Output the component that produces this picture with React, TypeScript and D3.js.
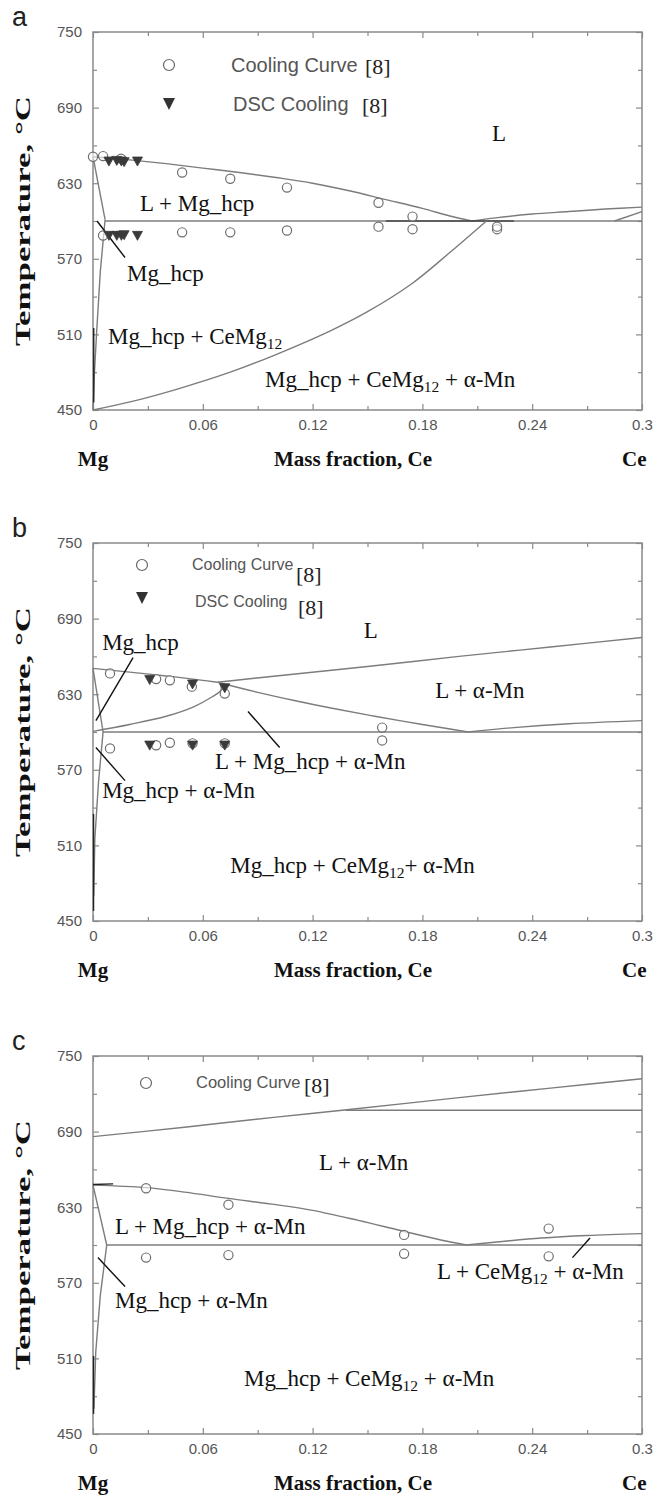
import React, { useEffect, useRef } from "react";
import * as d3 from "d3";

type Pt = [number, number];

const W = 654;
const H = 1502;
const LEFT = 93;
const RIGHT = 642;
const PH = 378;

// axis ticks
const xTicks = [0, 0.06, 0.12, 0.18, 0.24, 0.3];
const xTickLabels = ["0", "0.06", "0.12", "0.18", "0.24", "0.3"];
const xMinor = [0.03, 0.09, 0.15, 0.21, 0.27];
const yTicks = [450, 510, 570, 630, 690, 750];
const yMinor = [480, 540, 600, 660, 720];

// ---- panel a ----
const aLiquidus: Pt[] = [[0, 651], [0.02, 648.5], [0.04, 645.5], [0.06, 642], [0.08, 638.5], [0.1, 634.5], [0.12, 630], [0.14, 624], [0.16, 617], [0.18, 610], [0.195, 604], [0.207, 600]];
const aLiqRight: Pt[] = [[0.207, 600], [0.22, 602.5], [0.24, 605.5], [0.26, 607.5], [0.28, 609.5], [0.3, 611]];
const aRightLine: Pt[] = [[0.285, 600], [0.3, 607.5]];
const aEutectic: Pt[] = [[0.0066, 600], [0.3, 600]];
const aEutDark: Pt[] = [[0.16, 600], [0.23, 600]];
const aSolidus: Pt[] = [[0, 651], [0.0066, 601]];
const aSolvus: Pt[] = [[0.0066, 601], [0.004, 560], [0.002, 512], [0.0008, 480], [0, 450]];
const aCeMg12: Pt[] = [[0.215, 600], [0.195, 575], [0.174, 550], [0.15, 528], [0.13, 513], [0.1, 494], [0.075, 480], [0.047, 467], [0.022, 457], [0, 450]];
const aDarkLeft: Pt[] = [[0.0004, 515], [0.0004, 456]];
const aCircles: Pt[] = [[0, 651], [0.0055, 651.5], [0.0153, 649.5], [0.0487, 638.5], [0.075, 633.5], [0.106, 626.5], [0.156, 614.5], [0.1746, 603.5],
  [0.0055, 588.5], [0.0487, 591], [0.075, 591], [0.106, 592.5], [0.156, 595.5], [0.1746, 593.5], [0.2208, 593.5], [0.2208, 595.5]];
const aTriangles: Pt[] = [[0.0087, 648], [0.013, 648.5], [0.0155, 648], [0.017, 647.5], [0.0243, 648],
  [0.0087, 589], [0.013, 589], [0.0155, 589], [0.017, 589.5], [0.0243, 589]];

// ---- panel b ----
const bTopLiq: Pt[] = [[0, 650.5], [0.02, 647.5], [0.04, 644.5], [0.06, 641], [0.068, 639.5]];
const bAlphaMn: Pt[] = [[0.068, 639.5], [0.1, 644.5], [0.15, 652], [0.2, 660], [0.25, 667.5], [0.3, 675]];
const bLiquidus: Pt[] = [[0.068, 639.5], [0.09, 631.5], [0.11, 625], [0.13, 619], [0.154, 612.5], [0.18, 606], [0.205, 600]];
const bRight: Pt[] = [[0.205, 600], [0.23, 603.5], [0.26, 606.5], [0.3, 609]];
const bCurve: Pt[] = [[0, 600.5], [0.02, 606], [0.04, 612.5], [0.055, 620], [0.064, 627], [0.07, 633.5], [0.069, 639.5]];
const bEutectic: Pt[] = [[0.0055, 600], [0.3, 600]];
const bSolidus: Pt[] = [[0, 650.5], [0.0055, 600]];
const bSolvus: Pt[] = [[0.0055, 600], [0.003, 560], [0.001, 515], [0.0004, 470]];
const bDarkLeft: Pt[] = [[0.0003, 535], [0.0003, 458]];
const bCircles: Pt[] = [[0.0093, 646.5], [0.0345, 642], [0.042, 641], [0.054, 636], [0.072, 630.5],
  [0.0093, 587], [0.0345, 589.5], [0.042, 591.5], [0.0544, 591], [0.072, 591], [0.158, 603.5], [0.158, 593.3]];
const bTriangles: Pt[] = [[0.031, 642], [0.0544, 638.5], [0.072, 635.5], [0.031, 590], [0.0544, 590], [0.072, 590]];

// ---- panel c ----
const cTop: Pt[] = [[0, 686], [0.05, 693.5], [0.1, 701.5], [0.14, 707.5], [0.2, 717], [0.25, 724.5], [0.3, 732]];
const cHoriz: Pt[] = [[0.138, 707], [0.3, 707]];
const cLiquidus: Pt[] = [[0, 647.5], [0.029, 645.5], [0.05, 642], [0.074, 637], [0.1, 632], [0.12, 627.5], [0.145, 619.5], [0.168, 611.5], [0.19, 604], [0.204, 600]];
const cRight: Pt[] = [[0.204, 600], [0.225, 603], [0.245, 605.5], [0.27, 607.5], [0.3, 609]];
const cEutectic: Pt[] = [[0.0075, 600], [0.3, 600]];
const cSolidus: Pt[] = [[0, 647.5], [0.0075, 600]];
const cSolvus: Pt[] = [[0.0075, 600], [0.004, 560], [0.0015, 515], [0.0005, 470]];
const cDarkLeft: Pt[] = [[0.0003, 512], [0.0003, 466]];
const cDarkTop: Pt[] = [[0, 648], [0.011, 648.5]];
const cCircles: Pt[] = [[0.029, 645], [0.074, 632], [0.17, 608], [0.249, 613], [0.029, 590], [0.074, 592], [0.17, 593], [0.249, 591]];

type Line = { pts: Pt[]; dark?: boolean; smooth?: boolean; w?: number };
type Label = { x: number; t: number; parts: [string, boolean?][] };
type Legend = { cx: number; cy: number; tx: number; ty: number; text: string; size: number; rx: number; ry: number; tri: boolean };
type Panel = {
  top: number; letter: string; lines: Line[]; circles: Pt[]; triangles: Pt[];
  labels: Label[]; pointers: Pt[][]; legend: Legend[];
};

const panels: Panel[] = [
  {
    top: 32, letter: "a",
    lines: [
      { pts: aLiquidus, smooth: true }, { pts: aLiqRight, smooth: true }, { pts: aRightLine },
      { pts: aEutectic }, { pts: aEutDark, dark: true, w: 1.2 }, { pts: aSolidus }, { pts: aSolvus },
      { pts: aCeMg12, smooth: true }, { pts: aDarkLeft, dark: true },
    ],
    circles: aCircles, triangles: aTriangles,
    labels: [
      { x: 0.218, t: 663.7, parts: [["L"]] },
      { x: 0.0257, t: 608, parts: [["L + Mg_hcp"]] },
      { x: 0.0186, t: 552, parts: [["Mg_hcp"]] },
      { x: 0.0082, t: 502, parts: [["Mg_hcp + CeMg"], ["12", true]] },
      { x: 0.094, t: 468, parts: [["Mg_hcp + CeMg"], ["12", true], [" + α-Mn"]] },
    ],
    pointers: [[[0.0022, 600], [0.0175, 571]]],
    legend: [
      { cx: 76, cy: 33, tx: 138, ty: 40, text: "Cooling Curve", size: 20, rx: 272, ry: 42, tri: false },
      { cx: 76, cy: 72, tx: 140, ty: 79, text: "DSC Cooling", size: 20, rx: 269, ry: 81, tri: true },
    ],
  },
  {
    top: 543, letter: "b",
    lines: [
      { pts: bTopLiq, smooth: true }, { pts: bAlphaMn, smooth: true }, { pts: bLiquidus, smooth: true },
      { pts: bRight, smooth: true }, { pts: bCurve, smooth: true }, { pts: bEutectic },
      { pts: bSolidus }, { pts: bSolvus }, { pts: bDarkLeft, dark: true },
    ],
    circles: bCircles, triangles: bTriangles,
    labels: [
      { x: 0.148, t: 674.4, parts: [["L"]] },
      { x: 0.005, t: 665, parts: [["Mg_hcp"]] },
      { x: 0.187, t: 626.7, parts: [["L + α-Mn"]] },
      { x: 0.0667, t: 571, parts: [["L + Mg_hcp + α-Mn"]] },
      { x: 0.005, t: 548, parts: [["Mg_hcp + α-Mn"]] },
      { x: 0.075, t: 488, parts: [["Mg_hcp + CeMg"], ["12", true], ["+ α-Mn"]] },
    ],
    pointers: [
      [[0.0219, 659], [0.0016, 609]],
      [[0.0847, 616.3], [0.102, 587.7]],
      [[0.0016, 587.7], [0.0175, 561.4]],
    ],
    legend: [
      { cx: 49, cy: 22, tx: 99, ty: 27, text: "Cooling Curve", size: 16, rx: 203, ry: 39, tri: false },
      { cx: 49, cy: 55, tx: 102, ty: 64, text: "DSC Cooling", size: 16, rx: 205, ry: 72, tri: true },
    ],
  },
  {
    top: 1056, letter: "c",
    lines: [
      { pts: cTop, smooth: true }, { pts: cHoriz }, { pts: cLiquidus, smooth: true },
      { pts: cRight, smooth: true }, { pts: cEutectic }, { pts: cSolidus }, { pts: cSolvus },
      { pts: cDarkLeft, dark: true }, { pts: cDarkTop, dark: true },
    ],
    circles: cCircles, triangles: [],
    labels: [
      { x: 0.1235, t: 659.3, parts: [["L + α-Mn"]] },
      { x: 0.012, t: 609, parts: [["L + Mg_hcp + α-Mn"]] },
      { x: 0.012, t: 550, parts: [["Mg_hcp + α-Mn"]] },
      { x: 0.188, t: 573.3, parts: [["L + CeMg"], ["12", true], [" + α-Mn"]] },
      { x: 0.0825, t: 488, parts: [["Mg_hcp + CeMg"], ["12", true], [" + α-Mn"]] },
    ],
    pointers: [
      [[0.0027, 590], [0.0175, 567]],
      [[0.262, 590], [0.2716, 605.6]],
    ],
    legend: [
      { cx: 53, cy: 27, tx: 103, ty: 32, text: "Cooling Curve", size: 16.5, rx: 211, ry: 37, tri: false },
    ],
  },
];

const SERIF = "'Liberation Serif', 'Times New Roman', serif";
const SANS = "'Liberation Sans', Arial, sans-serif";
const GRAY = "#7c7c7c";

const triPath = (w: number, h: number) => `M${-w / 2},${-h / 2}L${w / 2},${-h / 2}L0,${h / 2}Z`;

function drawPanel(svg: d3.Selection<SVGSVGElement, unknown, null, undefined>, p: Panel) {
  const x = d3.scaleLinear().domain([0, 0.3]).range([LEFT, RIGHT]);
  const y = d3.scaleLinear().domain([450, 750]).range([p.top + PH, p.top]);
  const g = svg.append("g");

  // axes, ticks inward on all sides
  const styleAxis = (ax: d3.Selection<SVGGElement, unknown, null, undefined>) => {
    ax.select(".domain").remove();
    ax.selectAll("line").attr("stroke", "#8a8a8a").attr("stroke-width", 1.2);
    ax.attr("font-family", SANS).attr("font-size", 15);
    ax.selectAll("text").attr("fill", "#555");
  };
  const bottom = g.append("g").attr("transform", `translate(0,${p.top + PH})`)
    .call(d3.axisBottom(x).tickValues(xTicks).tickSize(-6).tickPadding(9).tickFormat((d, i) => xTickLabels[i]));
  styleAxis(bottom);
  const bottomMinor = g.append("g").attr("transform", `translate(0,${p.top + PH})`)
    .call(d3.axisBottom(x).tickValues(xMinor).tickSize(-4).tickFormat(() => ""));
  styleAxis(bottomMinor);
  const topAx = g.append("g").attr("transform", `translate(0,${p.top})`)
    .call(d3.axisTop(x).tickValues(xTicks).tickSize(-6).tickFormat(() => ""));
  styleAxis(topAx);
  const topMinor = g.append("g").attr("transform", `translate(0,${p.top})`)
    .call(d3.axisTop(x).tickValues(xMinor).tickSize(-4).tickFormat(() => ""));
  styleAxis(topMinor);
  const leftAx = g.append("g").attr("transform", `translate(${LEFT},0)`)
    .call(d3.axisLeft(y).tickValues(yTicks).tickSize(-6).tickPadding(11).tickFormat(d3.format("d")));
  styleAxis(leftAx);
  const leftMinor = g.append("g").attr("transform", `translate(${LEFT},0)`)
    .call(d3.axisLeft(y).tickValues(yMinor).tickSize(-4).tickFormat(() => ""));
  styleAxis(leftMinor);
  const rightAx = g.append("g").attr("transform", `translate(${RIGHT},0)`)
    .call(d3.axisRight(y).tickValues(yTicks).tickSize(-6).tickFormat(() => ""));
  styleAxis(rightAx);
  const rightMinor = g.append("g").attr("transform", `translate(${RIGHT},0)`)
    .call(d3.axisRight(y).tickValues(yMinor).tickSize(-4).tickFormat(() => ""));
  styleAxis(rightMinor);

  g.append("rect").attr("x", LEFT).attr("y", p.top).attr("width", RIGHT - LEFT).attr("height", PH)
    .attr("fill", "none").attr("stroke", "#8a8a8a").attr("stroke-width", 1.5);

  // phase boundaries
  p.lines.forEach((l) => {
    const gen = d3.line<Pt>().x((d) => x(d[0])).y((d) => y(d[1]))
      .curve(l.smooth ? d3.curveCatmullRom.alpha(0.5) : d3.curveLinear);
    g.append("path").attr("d", gen(l.pts)).attr("fill", "none")
      .attr("stroke", l.dark ? "#222" : GRAY).attr("stroke-width", l.w ?? 1.4);
  });

  // pointer lines
  p.pointers.forEach((pp) => {
    g.append("line").attr("x1", x(pp[0][0])).attr("y1", y(pp[0][1]))
      .attr("x2", x(pp[1][0])).attr("y2", y(pp[1][1]))
      .attr("stroke", "#111").attr("stroke-width", 1.4);
  });

  // measured points
  g.selectAll(".circ").data(p.circles).join("circle").attr("class", "circ")
    .attr("cx", (d) => x(d[0])).attr("cy", (d) => y(d[1])).attr("r", 4.6)
    .attr("fill", "white").attr("fill-opacity", 0.6).attr("stroke", "#6f6f6f").attr("stroke-width", 1.2);
  g.selectAll(".tri").data(p.triangles).join("path").attr("class", "tri")
    .attr("transform", (d) => `translate(${x(d[0])},${y(d[1]) + 1})`)
    .attr("d", triPath(10, 9)).attr("fill", "#3a3a3a").attr("stroke", "#3a3a3a").attr("stroke-width", 0.8);

  // region labels
  p.labels.forEach((lb) => {
    const t = g.append("text").attr("x", x(lb.x)).attr("y", y(lb.t))
      .attr("font-family", SERIF).attr("font-size", 23).attr("fill", "#111");
    let sub = false;
    lb.parts.forEach(([s, isSub]) => {
      const ts = t.append("tspan").text(s).attr("xml:space", "preserve");
      if (isSub && !sub) ts.attr("dy", 5).attr("font-size", 15.5);
      if (!isSub && sub) ts.attr("dy", -5);
      sub = !!isSub;
    });
    t.style("white-space", "pre");
  });

  // legend
  p.legend.forEach((lg) => {
    if (lg.tri) {
      g.append("path").attr("transform", `translate(${LEFT + lg.cx},${p.top + lg.cy})`)
        .attr("d", triPath(12, 12)).attr("fill", "#333");
    } else {
      g.append("circle").attr("cx", LEFT + lg.cx).attr("cy", p.top + lg.cy).attr("r", 5.5)
        .attr("fill", "white").attr("stroke", "#666").attr("stroke-width", 1.2);
    }
    g.append("text").attr("x", LEFT + lg.tx).attr("y", p.top + lg.ty).attr("font-family", SANS)
      .attr("font-size", lg.size).attr("fill", "#555").text(lg.text);
    g.append("text").attr("x", LEFT + lg.rx).attr("y", p.top + lg.ry).attr("font-family", SERIF)
      .attr("font-size", 22).attr("fill", "#222").text("[8]");
  });

  // panel letter
  g.append("text").attr("x", 12).attr("y", p.top - 6).attr("font-family", SANS)
    .attr("font-size", 27).attr("fill", "#222").text(p.letter);

  // axis titles
  const axisTitle = (tx: number, text: string, anchor: string) =>
    g.append("text").attr("x", tx).attr("y", p.top + PH + 56).attr("font-family", SERIF)
      .attr("font-weight", "bold").attr("font-size", 21).attr("fill", "#111")
      .attr("text-anchor", anchor).text(text);
  axisTitle(93, "Mg", "middle");
  axisTitle(353, "Mass fraction, Ce", "middle");
  axisTitle(622, "Ce", "start");

  const cy = p.top + PH / 2;
  g.append("text").attr("transform", `translate(30,${cy}) rotate(-90)`)
    .attr("text-anchor", "middle").attr("font-family", SERIF).attr("font-weight", "bold")
    .attr("font-size", 22).attr("fill", "#111")
    .attr("textLength", 250).attr("lengthAdjust", "spacingAndGlyphs")
    .text("Temperature, °C");
}

export default function App() {
  const ref = useRef<SVGSVGElement>(null);
  useEffect(() => {
    const svg = d3.select(ref.current as SVGSVGElement);
    svg.selectAll("*").remove();
    panels.forEach((p) => drawPanel(svg, p));
  }, []);
  return (
    <svg ref={ref} width={W} height={H}
      style={{ position: "absolute", left: 0, top: 0, background: "#fff" }} />
  );
}
